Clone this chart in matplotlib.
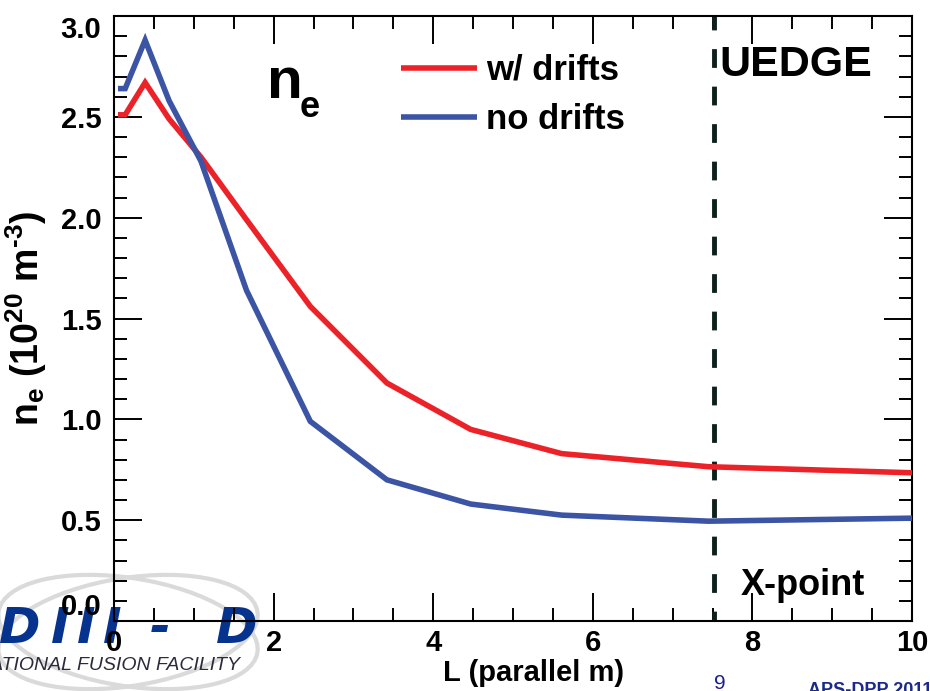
import matplotlib
matplotlib.use("Agg")
import matplotlib.pyplot as plt
from matplotlib.ticker import MultipleLocator, FixedLocator
from matplotlib.patches import Ellipse
from matplotlib.transforms import Affine2D

plt.rcParams['font.family'] = ['Liberation Sans', 'DejaVu Sans']
plt.rcParams['font.weight'] = 'bold'
plt.rcParams['axes.labelweight'] = 'bold'
plt.rcParams['mathtext.fontset'] = 'custom'
plt.rcParams['mathtext.rm'] = 'Liberation Sans:bold'
plt.rcParams['mathtext.bf'] = 'Liberation Sans:bold'
plt.rcParams['mathtext.it'] = 'Liberation Sans:bold'
plt.rcParams['lines.scale_dashes'] = False

# parallel distance along the field line (m)
L_par = [0.05, 0.14, 0.39, 0.69, 1.09, 1.66, 2.46, 3.42, 4.47, 5.61, 7.45, 10.0]
# electron density (1e20 m^-3)
ne_drifts = [2.51, 2.51, 2.67, 2.49, 2.30, 1.99, 1.56, 1.18, 0.95, 0.83, 0.765, 0.735]
ne_nodrifts = [2.64, 2.64, 2.88, 2.58, 2.28, 1.64, 0.99, 0.70, 0.58, 0.525, 0.495, 0.51]
series_labels = ["w/ drifts", "no drifts"]
x_point = 7.52

y_ticks = [0.0, 0.5, 1.0, 1.5, 2.0, 2.5, 3.0]
y_ticklabels = ["0.0", "0.5", "1.0", "1.5", "2.0", "2.5", "3.0"]
x_ticks = [0, 2, 4, 6, 8, 10]
x_ticklabels = ["0", "2", "4", "6", "8", "10"]

RED = "#ec2229"
BLUE = "#3b54a4"
W, H = 930, 691

fig = plt.figure(figsize=(W / 100, H / 100), dpi=100)
ax = fig.add_axes([114 / W, 1 - 621 / H, (912 - 114) / W, (621 - 16) / H])
ax.patch.set_facecolor('none')


def px(x, y):
    """figure-fraction coordinates from pixel position (origin top-left)"""
    return x / W, 1 - y / H


# --- DIII-D facility logo behind the plot ---
pix = Affine2D().scale(1, -1).translate(0, H)
for ang in (-9, 9):
    e = Ellipse((128, 632), 262, 108, angle=ang, fill=False, ec="#dadada",
                lw=3.0, transform=pix, zorder=-3)
    fig.add_artist(e)
logo_kw = dict(color="#05338e", fontsize=36, family="DejaVu Sans",
               weight="bold", style="oblique", va="baseline", zorder=-2)
fig.text(*px(40, 643), "D", ha="right", **logo_kw)
for xc in (60, 86, 112):
    fig.text(*px(xc, 643), "I", ha="center", **logo_kw)
fig.text(*px(160, 643), "-", ha="center", **logo_kw)
fig.text(*px(257, 643), "D", ha="right", **logo_kw)
fig.text(*px(240, 670), "NATIONAL FUSION FACILITY", ha="right", va="baseline",
         fontsize=14, style="italic", weight="normal", color="#2b2b3b", zorder=-2)

# --- data ---
ax.plot(L_par, ne_drifts, color=RED, lw=4, solid_joinstyle="miter",
        solid_capstyle="butt", label=series_labels[0], zorder=3)
ax.plot(L_par, ne_nodrifts, color=BLUE, lw=4, solid_joinstyle="miter",
        solid_capstyle="butt", label=series_labels[1], zorder=3)
ax.plot([x_point, x_point], [3.0, 0.0], color="#0d201c", lw=3.5,
        linestyle=(3.5, (13.5, 13.5)), zorder=2)

ax.set_xlim(0, 10)
ax.set_ylim(0, 3.0)

ax.xaxis.set_major_locator(FixedLocator(x_ticks))
ax.set_xticklabels(x_ticklabels)
ax.xaxis.set_minor_locator(MultipleLocator(0.5))
ax.yaxis.set_major_locator(FixedLocator(y_ticks))
ax.set_yticklabels(y_ticklabels)
ax.yaxis.set_minor_locator(MultipleLocator(0.1))

ax.tick_params(which="both", direction="in", top=True, right=True,
               width=1.4, color="black")
ax.tick_params(which="major", length=20)
ax.tick_params(which="minor", length=9.5)
ax.tick_params(axis="x", which="major", labelsize=21, pad=6)
ax.tick_params(axis="y", which="major", labelsize=21, pad=9)
for sp in ax.spines.values():
    sp.set_linewidth(1.5)

ylabs = ax.get_yticklabels()
ylabs[-1].set_verticalalignment("top")
ylabs[0].set_verticalalignment("bottom")

ax.set_xlabel("L (parallel m)", fontsize=21, fontweight="bold")
ax.xaxis.set_label_coords(0.526, -0.062)
ax.set_ylabel(r"n$_{e}$ (10$^{20}$ m$^{\text{-3}}$)", fontsize=27,
              fontweight="bold")
ax.yaxis.set_label_coords(-0.082, 0.5)

# --- annotations ---
fig.text(*px(267, 98), "n", fontsize=42, va="baseline", ha="left")
fig.text(*px(300, 117), "e", fontsize=26, va="baseline", ha="left")
fig.text(*px(796, 76), "UEDGE", fontsize=31, va="baseline", ha="center")
fig.text(*px(803, 595), "X-point", fontsize=26, va="baseline", ha="center")

leg = ax.legend(loc="upper left", bbox_to_anchor=px(401, 54),
                bbox_transform=fig.transFigure, frameon=False, fontsize=25,
                handlelength=2.2, handletextpad=0.25, labelspacing=0.47,
                borderpad=0, borderaxespad=0)

# --- slide footer ---
fig.text(*px(720, 674), "9", fontsize=15, weight="normal", color="#1b1f8f",
         ha="center", va="top")
fig.text(*px(808, 682), "APS-DPP 2011", fontsize=13, color="#1b2a8a",
         ha="left", va="top")

fig.savefig("out.png", dpi=100)
